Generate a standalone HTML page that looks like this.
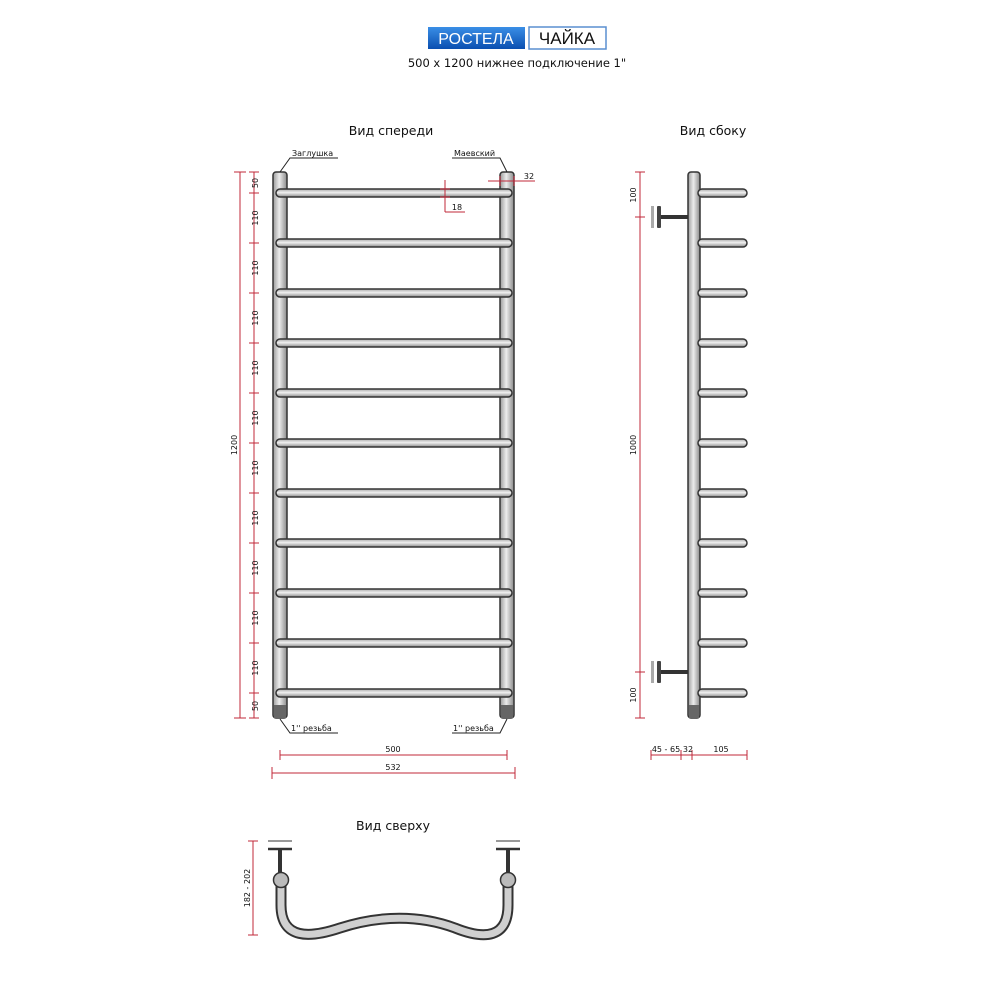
<!DOCTYPE html>
<html><head><meta charset="utf-8"><style>
body{margin:0;background:#fff;}
svg{display:block;font-family:"DejaVu Sans","Liberation Sans",sans-serif;}
</style></head><body>
<svg width="1000" height="1000" viewBox="0 0 1000 1000" xmlns="http://www.w3.org/2000/svg">
<defs>
<linearGradient id="tv" x1="0" x2="1" y1="0" y2="0"><stop offset="0" stop-color="#9a9a9a"/><stop offset="0.45" stop-color="#ececec"/><stop offset="1" stop-color="#8a8a8a"/></linearGradient>
<linearGradient id="th" x1="0" x2="0" y1="0" y2="1"><stop offset="0" stop-color="#a8a8a8"/><stop offset="0.45" stop-color="#f0f0f0"/><stop offset="1" stop-color="#8a8a8a"/></linearGradient>
<linearGradient id="bl" x1="0" x2="0" y1="0" y2="1"><stop offset="0" stop-color="#3a8ee6"/><stop offset="1" stop-color="#0a4fb0"/></linearGradient>
</defs>
<rect x="428" y="27" width="97" height="22" fill="url(#bl)"/>
<text x="476" y="44" font-size="16" fill="#fff" text-anchor="middle" font-family="Liberation Sans, sans-serif" font-size-adjust="none">РОСТЕЛА</text>
<rect x="529" y="27" width="77" height="22" fill="#fff" stroke="#5a8fd0" stroke-width="1.5"/>
<text x="567" y="44" font-size="17" fill="#111" text-anchor="middle" font-family="Liberation Sans, sans-serif">ЧАЙКА</text>
<text x="517" y="67" font-size="11.5" fill="#111" text-anchor="middle">500 x 1200 нижнее подключение 1"</text>
<text x="391" y="135" font-size="12.5" fill="#111" text-anchor="middle">Вид спереди</text>
<text x="713" y="135" font-size="12.5" fill="#111" text-anchor="middle">Вид сбоку</text>
<text x="393" y="830" font-size="12.5" fill="#111" text-anchor="middle">Вид сверху</text>

<g stroke="#333" stroke-width="1.5">
<rect x="273" y="172" width="14" height="546" rx="3" fill="url(#tv)"/>
<rect x="500" y="172" width="14" height="546" rx="3" fill="url(#tv)"/>
</g>
<g fill="#666"><rect x="274" y="705" width="12" height="13"/><rect x="501" y="705" width="12" height="13"/></g>
<g stroke="#333" stroke-width="1.5" fill="url(#th)">
<rect x="276" y="189" width="236" height="8" rx="4"/>
<rect x="276" y="239" width="236" height="8" rx="4"/>
<rect x="276" y="289" width="236" height="8" rx="4"/>
<rect x="276" y="339" width="236" height="8" rx="4"/>
<rect x="276" y="389" width="236" height="8" rx="4"/>
<rect x="276" y="439" width="236" height="8" rx="4"/>
<rect x="276" y="489" width="236" height="8" rx="4"/>
<rect x="276" y="539" width="236" height="8" rx="4"/>
<rect x="276" y="589" width="236" height="8" rx="4"/>
<rect x="276" y="639" width="236" height="8" rx="4"/>
<rect x="276" y="689" width="236" height="8" rx="4"/>
</g>
<g stroke="#222" stroke-width="1" fill="none">
<path d="M280 172 L290 158 L338 158"/><path d="M507 172 L500 158 L452 158"/>
<path d="M280 719 L290 733 L338 733"/><path d="M507 719 L500 733 L452 733"/>
</g>
<g font-size="8" fill="#111">
<text x="292" y="156">Заглушка</text><text x="454" y="156">Маевский</text>
<text x="291" y="731">1'' резьба</text><text x="453" y="731">1'' резьба</text>
</g>
<g stroke="#c0283a" stroke-width="1" fill="none">
<line x1="240" y1="172" x2="240" y2="718"/><line x1="234" y1="172" x2="246" y2="172"/><line x1="234" y1="718" x2="246" y2="718"/>
<line x1="254" y1="172" x2="254" y2="718"/>
<line x1="249" y1="172" x2="259" y2="172"/><line x1="249" y1="193" x2="259" y2="193"/><line x1="249" y1="243" x2="259" y2="243"/><line x1="249" y1="293" x2="259" y2="293"/><line x1="249" y1="343" x2="259" y2="343"/><line x1="249" y1="393" x2="259" y2="393"/><line x1="249" y1="443" x2="259" y2="443"/><line x1="249" y1="493" x2="259" y2="493"/><line x1="249" y1="543" x2="259" y2="543"/><line x1="249" y1="593" x2="259" y2="593"/><line x1="249" y1="643" x2="259" y2="643"/><line x1="249" y1="693" x2="259" y2="693"/><line x1="249" y1="718" x2="259" y2="718"/>
<line x1="445" y1="180" x2="445" y2="212"/><line x1="440" y1="189" x2="450" y2="189"/><line x1="440" y1="197" x2="450" y2="197"/><line x1="445" y1="212" x2="465" y2="212"/>
<line x1="488" y1="181" x2="535" y2="181"/><line x1="500" y1="176" x2="500" y2="186"/><line x1="514" y1="176" x2="514" y2="186"/>
<line x1="280" y1="755" x2="507" y2="755"/><line x1="280" y1="750" x2="280" y2="760"/><line x1="507" y1="750" x2="507" y2="760"/>
<line x1="272" y1="773" x2="515" y2="773"/><line x1="272" y1="767" x2="272" y2="779"/><line x1="515" y1="767" x2="515" y2="779"/>
</g>
<g font-size="8" fill="#111" text-anchor="middle">
<text transform="translate(237 445) rotate(-90)">1200</text>
<text transform="translate(258 183) rotate(-90)">50</text>
<text transform="translate(258 218) rotate(-90)">110</text>
<text transform="translate(258 268) rotate(-90)">110</text>
<text transform="translate(258 318) rotate(-90)">110</text>
<text transform="translate(258 368) rotate(-90)">110</text>
<text transform="translate(258 418) rotate(-90)">110</text>
<text transform="translate(258 468) rotate(-90)">110</text>
<text transform="translate(258 518) rotate(-90)">110</text>
<text transform="translate(258 568) rotate(-90)">110</text>
<text transform="translate(258 618) rotate(-90)">110</text>
<text transform="translate(258 668) rotate(-90)">110</text>
<text transform="translate(258 706) rotate(-90)">50</text>
<text x="457" y="210">18</text><text x="529" y="179">32</text>
<text x="393" y="752">500</text><text x="393" y="770">532</text>
</g>

<g stroke="#333" stroke-width="1.5">
<line x1="660" y1="217" x2="688" y2="217" stroke-width="4"/>
<line x1="660" y1="672" x2="688" y2="672" stroke-width="4"/>
</g>
<g fill="#aaa"><rect x="651" y="206" width="3" height="22"/><rect x="651" y="661" width="3" height="22"/></g>
<g fill="#444"><rect x="657" y="206" width="4" height="22" rx="1"/><rect x="657" y="661" width="4" height="22" rx="1"/></g>
<rect x="688" y="172" width="12" height="546" rx="3" fill="url(#tv)" stroke="#333" stroke-width="1.5"/>
<rect x="689" y="705" width="10" height="13" fill="#666"/>
<g stroke="#333" stroke-width="1.5" fill="url(#th)">
<rect x="698" y="189" width="49" height="8" rx="4"/><rect x="698" y="239" width="49" height="8" rx="4"/><rect x="698" y="289" width="49" height="8" rx="4"/><rect x="698" y="339" width="49" height="8" rx="4"/><rect x="698" y="389" width="49" height="8" rx="4"/><rect x="698" y="439" width="49" height="8" rx="4"/><rect x="698" y="489" width="49" height="8" rx="4"/><rect x="698" y="539" width="49" height="8" rx="4"/><rect x="698" y="589" width="49" height="8" rx="4"/><rect x="698" y="639" width="49" height="8" rx="4"/><rect x="698" y="689" width="49" height="8" rx="4"/>
</g>
<g stroke="#c0283a" stroke-width="1" fill="none">
<line x1="640" y1="172" x2="640" y2="718"/>
<line x1="635" y1="172" x2="645" y2="172"/><line x1="635" y1="217" x2="645" y2="217"/><line x1="635" y1="672" x2="645" y2="672"/><line x1="635" y1="718" x2="645" y2="718"/>
<line x1="651" y1="755" x2="747" y2="755"/>
<line x1="651" y1="750" x2="651" y2="760"/><line x1="681" y1="750" x2="681" y2="760"/><line x1="692" y1="750" x2="692" y2="760"/><line x1="747" y1="750" x2="747" y2="760"/>
</g>
<g font-size="8" fill="#111" text-anchor="middle">
<text transform="translate(636 195) rotate(-90)">100</text>
<text transform="translate(636 445) rotate(-90)">1000</text>
<text transform="translate(636 695) rotate(-90)">100</text>
<text x="666" y="752">45 - 65</text><text x="688" y="752">32</text><text x="721" y="752">105</text>
</g>

<g stroke="#333" stroke-width="1.5">
<line x1="268" y1="841" x2="292" y2="841" stroke="#999" stroke-width="2"/>
<line x1="268" y1="849" x2="292" y2="849" stroke-width="2.5"/>
<line x1="496" y1="841" x2="520" y2="841" stroke="#999" stroke-width="2"/>
<line x1="496" y1="849" x2="520" y2="849" stroke-width="2.5"/>
<line x1="280" y1="849" x2="280" y2="878" stroke-width="4"/>
<line x1="508" y1="849" x2="508" y2="878" stroke-width="4"/>
</g>
<path d="M281 880 L281 905 C281 940 310 938 340 928 C380 915 420 915 455 928 C485 940 508 938 508 905 L508 880" fill="none" stroke="#333" stroke-width="11"/>
<path d="M281 880 L281 905 C281 940 310 938 340 928 C380 915 420 915 455 928 C485 940 508 938 508 905 L508 880" fill="none" stroke="#d0d0d0" stroke-width="7"/>
<circle cx="281" cy="880" r="7.5" fill="#bbb" stroke="#333" stroke-width="1.5"/>
<circle cx="508" cy="880" r="7.5" fill="#bbb" stroke="#333" stroke-width="1.5"/>
<g stroke="#c0283a" stroke-width="1"><line x1="253" y1="841" x2="253" y2="935"/><line x1="248" y1="841" x2="258" y2="841"/><line x1="248" y1="935" x2="258" y2="935"/></g>
<text transform="translate(250 888) rotate(-90)" font-size="8" fill="#111" text-anchor="middle">182 - 202</text>
</svg>
</body></html>
